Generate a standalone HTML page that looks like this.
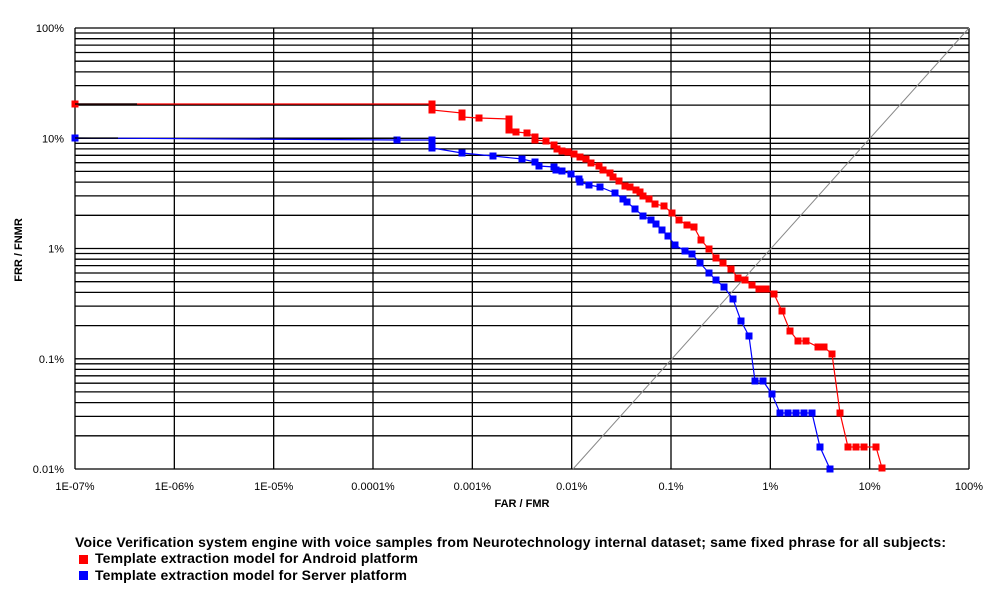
<!DOCTYPE html>
<html><head><meta charset="utf-8"><style>
body{margin:0;background:#fff;width:1000px;height:600px;overflow:hidden;font-family:"Liberation Sans",sans-serif}
svg text{font-family:"Liberation Sans",sans-serif}
</style></head><body>
<svg id="s" width="1000" height="600" xmlns="http://www.w3.org/2000/svg"></svg>
<script>
const s=document.getElementById('s');let h='';
const L=75,R=969,T=28,B=469;
const yd=(B-T)/4;
for(let d=0;d<4;d++){for(let m=1;m<=9;m++){const y=B-(d+Math.log10(m))*yd;h+=`<line x1="${L}" y1="${y.toFixed(1)}" x2="${R}" y2="${y.toFixed(1)}" stroke="#000" stroke-width="1.3"/>`;}}
h+=`<line x1="${L}" y1="${T}" x2="${R}" y2="${T}" stroke="#000" stroke-width="1.3"/>`;
const xl=["1E-07%","1E-06%","1E-05%","0.0001%","0.001%","0.01%","0.1%","1%","10%","100%"];
for(let i=0;i<10;i++){const x=L+i*(R-L)/9;h+=`<line x1="${x}" y1="${T}" x2="${x}" y2="${B}" stroke="#000" stroke-width="1.3"/>`;
h+=`<text x="${x}" y="490" font-size="11" text-anchor="middle" fill="#000">${xl[i]}</text>`;}
const yl=["0.01%","0.1%","1%","10%","100%"];
for(let d=0;d<5;d++){h+=`<text x="64" y="${B-d*yd+4}" font-size="11" text-anchor="end">${yl[d]}</text>`;}
h+=`<line x1="573" y1="469" x2="969" y2="28" stroke="#888" stroke-width="1"/>`;
function ser(pts,c){let p=pts.map(a=>a.join(',')).join(' ');let o=`<polyline points="${p}" fill="none" stroke="${c}" stroke-width="1.2"/>`;
for(const a of pts)o+=`<rect x="${a[0]-3.5}" y="${a[1]-3.5}" width="7" height="7" fill="${c}"/>`;return o;}
const red=[[75,104],[432,104],[432,107],[432,110],[462,113],[462,117],[479,118],[509,119],[509,125],[509,130],[516,132],[527,133],[535,137],[535,140],[546,141],[554,145],[557,149],[562,151],[568,152],[574,154],[580,157],[586,159],[591,163],[599,166],[603,170],[610,173],[613,177],[619,181],[625,186],[630,187],[636,190],[640,192],[643,196],[649,199],[655,204],[664,206],[672,213],[679,220],[687,225],[694,227],[701,240],[709,249],[716,258],[723,263],[731,269],[738,278],[745,280],[752,285],[759,289],[766,289],[774,294],[782,311],[790,331],[798,341],[806,341],[818,347],[824,347],[832,354],[840,413],[848,447],[856,447],[864,447],[876,447],[882,468]];
const blue=[[75,138],[397,140],[432,140],[432,144],[432,148],[462,153],[493,156],[522,159],[535,162],[539,166],[554,167],[556,170],[562,171],[571,174],[579,179],[580,182],[589,185],[600,187],[615,193],[623,199],[627,202],[635,209],[643,216],[651,220],[656,224],[662,230],[668,236],[675,245],[685,251],[692,254],[700,263],[709,273],[716,280],[724,287],[733,299],[741,321],[749,336],[755,381],[763,381],[772,394],[780,413],[788,413],[796,413],[804,413],[812,413],[820,447],[830,469]];
h+=ser(red,'#f00');h+=ser(blue,'#00f');
h+=`<line x1="75" y1="104" x2="137" y2="104" stroke="#000" stroke-width="1.3"/><line x1="75" y1="138" x2="118" y2="138" stroke="#000" stroke-width="1.3"/><line x1="260" y1="138" x2="397" y2="138" stroke="#000" stroke-width="1"/>`;
h+=`<text x="522" y="507" font-size="11" font-weight="bold" text-anchor="middle">FAR / FMR</text>`;
h+=`<text transform="translate(22,250) rotate(-90)" font-size="11" font-weight="bold" text-anchor="middle">FRR / FNMR</text>`;
h+=`<text x="75" y="547" font-size="14" font-weight="bold" textLength="871" lengthAdjust="spacing">Voice Verification system engine with voice samples from Neurotechnology internal dataset; same fixed phrase for all subjects:</text>`;
h+=`<rect x="79" y="555" width="9" height="9" fill="#f00"/><text x="95" y="563" font-size="14" font-weight="bold" textLength="323" lengthAdjust="spacing">Template extraction model for Android platform</text>`;
h+=`<rect x="79" y="571" width="9" height="9" fill="#00f"/><text x="95" y="580" font-size="14" font-weight="bold" textLength="312" lengthAdjust="spacing">Template extraction model for Server platform</text>`;
s.innerHTML=h;
</script>
</body></html>
